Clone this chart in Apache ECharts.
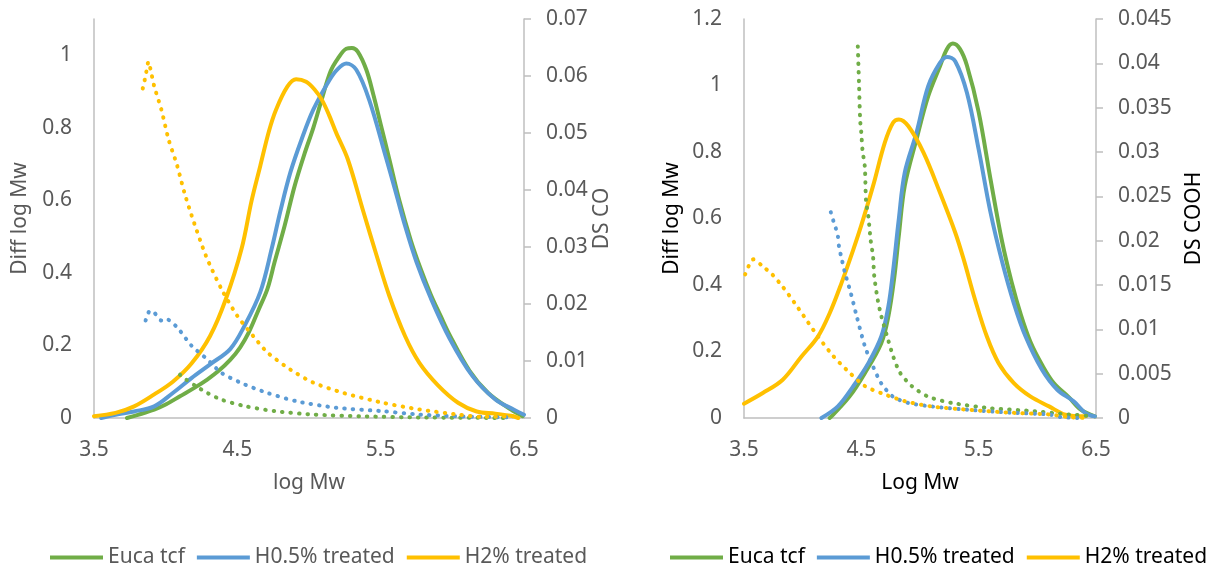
<!DOCTYPE html>
<html>
<head>
<meta charset="utf-8">
<script src="https://cdn.jsdelivr.net/npm/echarts/dist/echarts.min.js"></script>
<style>
html,body{margin:0;padding:0;background:#fff;}
#chart{width:1212px;height:567px;}
</style>
</head>
<body>
<div id="chart"></div>
<script>
// ---------- DATA ----------
const seriesNames = ['Euca tcf', 'H0.5% treated', 'H2% treated'];
const xTicks = [3.5, 4.5, 5.5, 6.5];

// Left chart: Diff log Mw (left axis) vs log Mw
const leftEuca = [[3.73,0],[3.80,0.008],[3.92,0.023],[4.0,0.037],[4.10,0.06],[4.2,0.083],[4.29,0.106],[4.37,0.13],[4.45,0.16],[4.52,0.195],[4.58,0.236],[4.65,0.3],[4.71,0.356],[4.76,0.43],[4.83,0.53],[4.90,0.64],[4.97,0.73],[5.03,0.80],[5.09,0.88],[5.15,0.955],[5.20,0.99],[5.26,1.018],[5.30,1.02],[5.34,1.01],[5.40,0.96],[5.45,0.89],[5.50,0.81],[5.56,0.714],[5.63,0.6],[5.71,0.49],[5.78,0.41],[5.85,0.34],[5.92,0.28],[5.98,0.23],[6.12,0.13],[6.25,0.069],[6.41,0.023],[6.49,0.005]];
const leftH05 = [[3.55,0],[3.65,0.009],[3.78,0.018],[3.92,0.032],[4.05,0.069],[4.18,0.11],[4.31,0.148],[4.45,0.19],[4.55,0.254],[4.66,0.347],[4.74,0.467],[4.80,0.57],[4.87,0.677],[4.95,0.77],[5.03,0.85],[5.14,0.93],[5.20,0.962],[5.26,0.977],[5.33,0.96],[5.42,0.877],[5.54,0.714],[5.60,0.63],[5.67,0.53],[5.75,0.43],[5.85,0.33],[5.98,0.22],[6.14,0.116],[6.30,0.051],[6.43,0.023],[6.5,0.009]];
const leftH2 = [[3.5,0.005],[3.65,0.014],[3.78,0.032],[3.92,0.065],[4.05,0.10],[4.18,0.15],[4.31,0.226],[4.42,0.328],[4.53,0.467],[4.60,0.6],[4.66,0.695],[4.72,0.79],[4.77,0.85],[4.85,0.914],[4.91,0.934],[4.98,0.927],[5.04,0.905],[5.09,0.877],[5.14,0.835],[5.19,0.786],[5.27,0.714],[5.38,0.568],[5.47,0.45],[5.56,0.337],[5.67,0.226],[5.77,0.152],[5.90,0.09],[6.04,0.042],[6.17,0.018],[6.30,0.012],[6.41,0.006],[6.46,0]];
// Left chart: DS CO (right axis)
const leftEucaDS = [[4.10,0.0076],[4.14,0.0068],[4.21,0.0056],[4.29,0.0044],[4.39,0.0032],[4.55,0.0021],[4.76,0.0012],[5.03,0.0006],[5.37,0.0003],[5.77,0.0001],[6.4,0]];
const leftH05DS = [[3.86,0.0171],[3.89,0.0188],[3.92,0.0185],[3.97,0.0171],[4.0,0.0174],[4.08,0.0159],[4.18,0.0127],[4.29,0.0103],[4.39,0.0079],[4.55,0.0059],[4.71,0.0044],[4.92,0.0029],[5.19,0.0018],[5.51,0.0012],[5.77,0.0006],[6.04,0.0003],[6.4,0.0001]];
const leftH2DS = [[3.84,0.0578],[3.86,0.060],[3.88,0.0625],[3.90,0.0605],[3.92,0.0582],[3.97,0.0541],[4.02,0.0489],[4.08,0.0443],[4.13,0.0396],[4.18,0.0356],[4.28,0.0285],[4.39,0.0226],[4.50,0.0179],[4.61,0.0144],[4.71,0.0115],[4.87,0.0085],[5.03,0.0062],[5.24,0.0044],[5.51,0.0027],[5.77,0.0015],[6.04,0.0006],[6.2,0.0002],[6.43,0.0003]];

// Right chart: Diff log Mw (left axis) vs Log Mw
const rightEuca = [[4.23,0],[4.26,0.01],[4.40,0.065],[4.53,0.135],[4.67,0.225],[4.73,0.305],[4.78,0.42],[4.82,0.55],[4.87,0.698],[4.97,0.838],[5.07,0.968],[5.17,1.058],[5.23,1.11],[5.28,1.126],[5.34,1.11],[5.40,1.06],[5.50,0.92],[5.60,0.72],[5.70,0.53],[5.78,0.41],[5.86,0.31],[5.94,0.23],[6.04,0.16],[6.14,0.105],[6.27,0.062],[6.37,0.025],[6.49,0.005]];
const rightH05 = [[4.16,0],[4.30,0.035],[4.43,0.095],[4.56,0.165],[4.67,0.245],[4.73,0.335],[4.77,0.44],[4.82,0.6],[4.87,0.738],[4.97,0.858],[5.07,0.998],[5.17,1.068],[5.23,1.086],[5.30,1.073],[5.40,0.978],[5.50,0.808],[5.60,0.62],[5.70,0.47],[5.80,0.345],[5.90,0.245],[6.04,0.145],[6.17,0.085],[6.31,0.05],[6.41,0.015],[6.49,0.005]];
const rightH2 = [[3.5,0.043],[3.66,0.075],[3.83,0.115],[3.99,0.185],[4.13,0.245],[4.23,0.315],[4.33,0.405],[4.43,0.505],[4.50,0.58],[4.60,0.698],[4.70,0.828],[4.77,0.888],[4.82,0.898],[4.90,0.878],[5.03,0.798],[5.17,0.678],[5.30,0.558],[5.37,0.48],[5.47,0.355],[5.57,0.245],[5.67,0.165],[5.80,0.105],[5.94,0.065],[6.10,0.035],[6.24,0.01],[6.41,0.005]];
// Right chart: DS COOH (right axis)
const rightEucaDS = [[4.47,0.0419],[4.48,0.0378],[4.49,0.0336],[4.50,0.0321],[4.51,0.0302],[4.53,0.0283],[4.54,0.0245],[4.56,0.0227],[4.58,0.02],[4.60,0.0182],[4.61,0.016],[4.64,0.0133],[4.67,0.0115],[4.72,0.0092],[4.77,0.007],[4.83,0.0051],[4.93,0.0036],[5.07,0.0024],[5.27,0.0017],[5.60,0.0011],[5.94,0.0008],[6.27,0.0004],[6.47,0.0002]];
const rightH05DS = [[4.24,0.0232],[4.26,0.0223],[4.28,0.0215],[4.30,0.0205],[4.31,0.0193],[4.33,0.0181],[4.36,0.0164],[4.41,0.0141],[4.46,0.0115],[4.53,0.0081],[4.60,0.0058],[4.67,0.0039],[4.77,0.0024],[4.90,0.0017],[5.10,0.0013],[5.44,0.0009],[5.77,0.0006],[6.10,0.0004],[6.2,0.0001],[6.37,0]];
const rightH2DS = [[3.51,0.0162],[3.58,0.0179],[3.66,0.0171],[3.74,0.0162],[3.83,0.0148],[3.93,0.013],[4.03,0.0111],[4.13,0.0092],[4.26,0.007],[4.40,0.0051],[4.53,0.0036],[4.67,0.0028],[4.87,0.0019],[5.10,0.0013],[5.44,0.0009],[5.77,0.0006],[6.10,0.0004],[6.27,0.0001],[6.42,0]];

// ---------- STYLE ----------
const colors = ['#70AD47', '#5B9BD5', '#FFC000'];
const FONT = 'Noto Sans';
const GREY = '#595959';
const AXIS = '#BFBFBF';

function xAxisDef(grid, name, nameColor) {
  return {
    type: 'value', gridIndex: grid, min: xTicks[0], max: xTicks[xTicks.length - 1], interval: 1,
    name: name, nameLocation: 'middle', nameGap: 55,
    nameTextStyle: { fontFamily: FONT, fontSize: 21, color: nameColor },
    axisLine: { show: true, onZero: false, lineStyle: { color: AXIS, width: 1.5 } },
    axisTick: { show: false },
    splitLine: { show: false },
    axisLabel: { fontFamily: FONT, fontSize: 21, color: GREY, margin: 22,
      formatter: v => v.toFixed(1) }
  };
}
function yAxisDef(grid, pos, max, interval, name, nameColor, nameGap, opts) {
  return Object.assign({
    type: 'value', gridIndex: grid, position: pos, min: 0, max: max, interval: interval,
    name: name, nameLocation: 'middle', nameGap: nameGap, nameRotate: 90,
    nameTextStyle: { fontFamily: FONT, fontSize: 21, color: nameColor },
    axisLine: { show: true, onZero: false, lineStyle: { color: AXIS, width: 1.5 } },
    axisTick: { show: pos === 'right', length: 7, lineStyle: { color: AXIS, width: 1.5 } },
    splitLine: { show: false },
    axisLabel: { fontFamily: FONT, fontSize: 21, color: GREY, margin: 22 }
  }, opts || {});
}
function solid(name, data, ci, xi, yi) {
  return { name: name, type: 'line', data: data, xAxisIndex: xi, yAxisIndex: yi,
    showSymbol: false, smooth: 0.35, color: colors[ci],
    lineStyle: { width: 4, color: colors[ci], cap: 'round', join: 'round' }, z: 2 };
}
function dotted(name, data, ci, xi, yi) {
  return { name: name + ' DS', type: 'line', data: data, xAxisIndex: xi, yAxisIndex: yi,
    showSymbol: false, smooth: 0.25, color: colors[ci],
    lineStyle: { width: 4, color: colors[ci], type: [0.5, 8], cap: 'round' }, z: 3 };
}
function legendDef(left, color) {
  return { left: left, top: 542, width: 560, orient: 'horizontal', data: seriesNames,
    icon: 'rect', itemWidth: 53, itemHeight: 4, itemGap: 12,
    textStyle: { fontFamily: FONT, fontSize: 21, color: color, padding: [0, 0, 0, 0] } };
}

const chart = echarts.init(document.getElementById('chart'), null, { renderer: 'canvas' });
chart.setOption({
  animation: false,
  backgroundColor: '#ffffff',
  textStyle: { fontFamily: FONT },
  grid: [
    { left: 94, top: 19, width: 430, height: 399, containLabel: false },
    { left: 744, top: 19, width: 352, height: 399, containLabel: false }
  ],
  legend: [legendDef(45, GREY), legendDef(665, '#000000')],
  xAxis: [
    xAxisDef(0, 'log Mw', GREY),
    xAxisDef(1, 'Log Mw', '#000000')
  ],
  yAxis: [
    yAxisDef(0, 'left', 1.1, 0.2, 'Diff log Mw', GREY, 63, { axisLabel: { fontFamily: FONT, fontSize: 21, color: GREY, margin: 22, showMaxLabel: false } }),
    yAxisDef(0, 'right', 0.07, 0.01, 'DS CO', GREY, 48),
    yAxisDef(1, 'left', 1.2, 0.2, 'Diff log Mw', '#000000', 61),
    yAxisDef(1, 'right', 0.045, 0.005, 'DS COOH', '#000000', 88)
  ],
  series: [
    solid(seriesNames[0], leftEuca, 0, 0, 0),
    solid(seriesNames[1], leftH05, 1, 0, 0),
    solid(seriesNames[2], leftH2, 2, 0, 0),
    dotted(seriesNames[0], leftEucaDS, 0, 0, 1),
    dotted(seriesNames[1], leftH05DS, 1, 0, 1),
    dotted(seriesNames[2], leftH2DS, 2, 0, 1),
    solid(seriesNames[0], rightEuca, 0, 1, 2),
    solid(seriesNames[1], rightH05, 1, 1, 2),
    solid(seriesNames[2], rightH2, 2, 1, 2),
    dotted(seriesNames[0], rightEucaDS, 0, 1, 3),
    dotted(seriesNames[1], rightH05DS, 1, 1, 3),
    dotted(seriesNames[2], rightH2DS, 2, 1, 3)
  ]
});
</script>
</body>
</html>
